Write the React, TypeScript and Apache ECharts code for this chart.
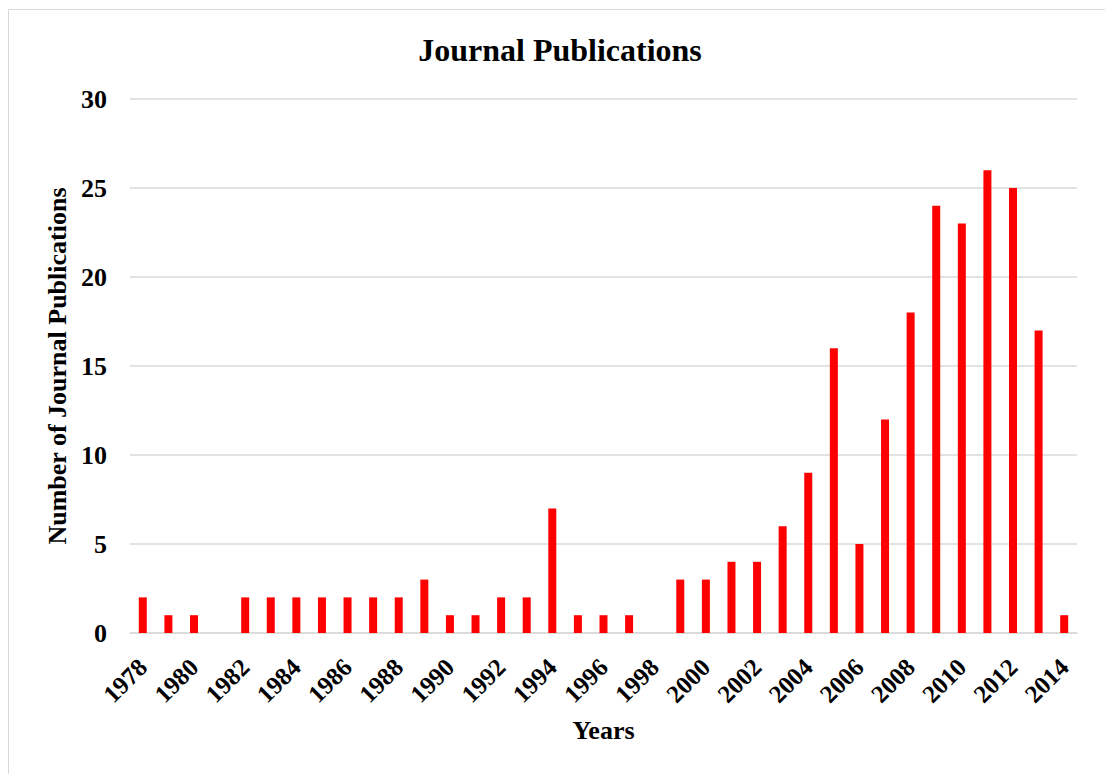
import React, { useEffect, useRef } from "react";
import * as echarts from "echarts";

const years = [
  "1978","1979","1980","1981","1982","1983","1984","1985","1986","1987",
  "1988","1989","1990","1991","1992","1993","1994","1995","1996","1997",
  "1998","1999","2000","2001","2002","2003","2004","2005","2006","2007",
  "2008","2009","2010","2011","2012","2013","2014",
];
const publications = [
  2, 1, 1, 0, 2, 2, 2, 2, 2, 2,
  2, 3, 1, 1, 2, 2, 7, 1, 1, 1,
  0, 3, 3, 4, 4, 6, 9, 16, 5, 12,
  18, 24, 23, 26, 25, 17, 1,
];
const yTicks = [0, 5, 10, 15, 20, 25, 30];

const FONT = "'Liberation Serif', 'Times New Roman', serif";

export default function App() {
  const ref = useRef<HTMLDivElement>(null);
  useEffect(() => {
    if (!ref.current) return;
    const chart = echarts.init(ref.current, null, { renderer: "svg" });
    chart.setOption({
      animation: false,
      backgroundColor: "#ffffff",
      title: {
        text: "Journal Publications",
        left: 555,
        top: 29,
        textAlign: "center",
        textStyle: { fontFamily: FONT, fontSize: 32, fontWeight: "bold", color: "#000" },
      },
      graphic: [
        {
          type: "rect",
          shape: { x: 8.5, y: 9.5, width: 1200, height: 900 },
          style: { fill: "none", stroke: "#d9d9d9", lineWidth: 1 },
          silent: true,
        },
      ],
      grid: { left: 130, right: 28, top: 99, bottom: 141, containLabel: false },
      xAxis: {
        type: "category",
        data: years,
        name: "Years",
        nameLocation: "middle",
        nameGap: 84,
        nameTextStyle: { fontFamily: FONT, fontSize: 26, fontWeight: "bold", color: "#000" },
        axisLine: { show: true, lineStyle: { color: "#d9d9d9", width: 1.5 } },
        axisTick: { show: false },
        axisLabel: {
          interval: 1,
          rotate: 45,
          margin: 30,
          fontFamily: FONT,
          fontSize: 25,
          fontWeight: "bold",
          color: "#000",
        },
      },
      yAxis: {
        type: "value",
        min: yTicks[0],
        max: yTicks[yTicks.length - 1],
        interval: 5,
        name: "Number of Journal Publications",
        nameLocation: "middle",
        nameGap: 60,
        nameRotate: 90,
        nameTextStyle: { fontFamily: FONT, fontSize: 26, fontWeight: "bold", color: "#000" },
        axisLine: { show: false },
        axisTick: { show: false },
        splitLine: { lineStyle: { color: "#d9d9d9", width: 1.5 } },
        axisLabel: {
          margin: 23,
          fontFamily: FONT,
          fontSize: 26,
          fontWeight: "bold",
          color: "#000",
        },
      },
      series: [
        {
          type: "bar",
          data: publications,
          barWidth: 8,
          itemStyle: { color: "#ff0000" },
        },
      ],
    });
    return () => chart.dispose();
  }, []);
  return (
    <div
      ref={ref}
      style={{ position: "fixed", left: 0, top: 0, width: 1105, height: 774 }}
    />
  );
}
